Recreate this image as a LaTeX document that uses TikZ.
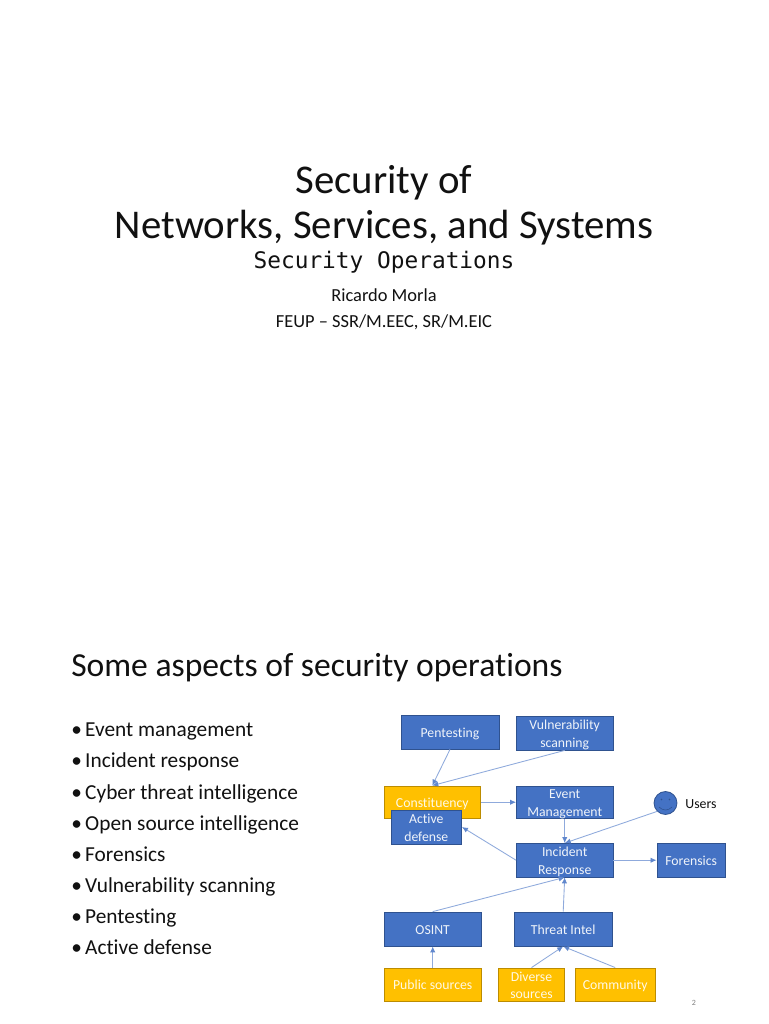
\documentclass[tikz,border=0pt]{standalone}
\usepackage{fontspec}
\setmainfont[RawFeature={-liga}]{Carlito}
\newfontfamily\monoface{DejaVu Sans Mono}
\usetikzlibrary{arrows.meta}
\definecolor{boxblue}{HTML}{4472C4}
\definecolor{boxedge}{HTML}{2F528F}
\definecolor{boxgold}{HTML}{FFC000}
\definecolor{goldedge}{HTML}{BC8C00}
\definecolor{linkblue}{HTML}{8FAADC}
\definecolor{inktext}{HTML}{111111}
\newcommand\twolines[2]{\raisebox{0pt}[0pt][0pt]{\begin{tabular}{@{}c@{}}#1\\#2\end{tabular}}}
\tikzset{
  x=0.75pt,y=-0.75pt,
  boxbase/.style={draw,line width=0.6pt,inner sep=0pt,align=center,text=white!92!boxblue,
    font=\fontsize{10.3}{13.4}\selectfont,
    execute at begin node={\rule{0pt}{10.5pt}},execute at end node={\rule[-3pt]{0pt}{3pt}}},
  bluebox/.style={boxbase,fill=boxblue,draw=boxedge},
  goldbox/.style={boxbase,fill=boxgold,draw=goldedge,text=white!90!boxgold},
  size/.style n args={2}{minimum width=#1*0.75pt,minimum height=#2*0.75pt},
  link/.style={draw=linkblue,line width=0.65pt,-{Latex[length=4.5pt,width=4pt,color=boxblue!85!white]}},
  bullet/.style={anchor=base west,inner sep=0pt,text=inktext,font=\fontsize{16}{19}\selectfont},
  plain/.style={inner sep=0pt,text=inktext},
}
\begin{document}
\begin{tikzpicture}
\useasboundingbox[fill=white] (0,0) rectangle (768,1024);
% first slide
\node[plain,align=center,font=\fontsize{30.6}{34}\selectfont] (title) at (384,205) {Security of\\Networks, Services, and Systems};
\node[plain,font=\fontsize{17.1}{20}\monoface] (sub) at (384,262) {Security Operations};
\node[plain,font=\fontsize{13.8}{15}\selectfont] (author) at (384,295) {Ricardo Morla};
\node[plain,font=\fontsize{13.8}{15}\selectfont] (course) at (384,322) {FEUP – SSR/M.EEC, SR/M.EIC};
% second slide
\node[plain,anchor=west,font=\fontsize{25.2}{28}\selectfont] (heading) at (71,668) {Some aspects of security operations};
\node[bullet] (b1) at (71,736.5) {•\hspace{2.5pt}Event management};
\node[bullet] (b2) at (71,767.5) {•\hspace{2.5pt}Incident response};
\node[bullet] (b3) at (71,799.5) {•\hspace{2.5pt}Cyber threat intelligence};
\node[bullet] (b4) at (71,830.5) {•\hspace{2.5pt}Open source intelligence};
\node[bullet] (b5) at (71,861.5) {•\hspace{2.5pt}Forensics};
\node[bullet] (b6) at (71,892.5) {•\hspace{2.5pt}Vulnerability scanning};
\node[bullet] (b7) at (71,923.5) {•\hspace{2.5pt}Pentesting};
\node[bullet] (b8) at (71,954.5) {•\hspace{2.5pt}Active defense};
% boxes
\node[bluebox,size={98}{34}] (pent) at (450,732) {Pentesting};
\node[bluebox,size={96.5}{34}] (vuln) at (564.7,733) {\twolines{Vulnerability}{scanning}};
\node[goldbox,size={96.5}{32.5}] (con) at (432.3,802.2) {Constituency};
\node[bluebox,size={70.5}{34}] (act) at (426.3,827) {\twolines{Active}{defense}};
\node[bluebox,size={96.5}{32.5}] (evt) at (564.7,802.2) {\twolines{Event}{Management}};
\node[bluebox,size={96.5}{33.5}] (inc) at (564.7,860.2) {\twolines{Incident}{Response}};
\node[bluebox,size={68.5}{33.5}] (for) at (691.2,860.2) {Forensics};
\node[bluebox,size={97.5}{34}] (osint) at (432.7,929) {OSINT};
\node[bluebox,size={97.5}{34}] (threat) at (563.2,929) {Threat Intel};
\node[goldbox,size={97.5}{33.5}] (pub) at (432.7,984.7) {Public sources};
\node[goldbox,size={66}{33.5}] (div) at (531.5,984.7) {\twolines{Diverse}{sources}};
\node[goldbox,size={80.5}{33.5}] (com) at (615.2,984.7) {Community};
\node[circle,fill=boxblue,draw=boxedge,line width=0.6pt,minimum size=17.2pt,inner sep=0pt] (user) at (665.5,803) {};
\fill[boxedge] (661.5,799.5) circle (0.8);
\fill[boxedge] (669.5,799.5) circle (0.8);
\draw[boxedge,line width=0.4pt] (659,807) .. controls (663,811) and (668,811) .. (672,807);
\node[plain,font=\fontsize{10.4}{12}\selectfont] (ulabel) at (701,804) {Users};
\node[plain,text=gray,font=\fontsize{6}{7}\selectfont] (pageno) at (694,1003) {2};
% connectors
\draw[link] (pent.south) -- (con.north);
\draw[link] (vuln.south) -- (con.north);
\draw[link] (con.east) -- (evt.west);
\draw[link] (evt.south) -- (inc.north);
\draw[link] (user.south west) -- (inc.north);
\draw[link] (inc.west) -- (act.east);
\draw[link] (inc.east) -- (for.west);
\draw[link] (osint.north) -- (inc.south);
\draw[link] (threat.north) -- (inc.south);
\draw[link] (pub.north) -- (osint.south);
\draw[link] (div.north) -- (threat.south);
\draw[link] (com.north) -- (threat.south);
\end{tikzpicture}
\end{document}
